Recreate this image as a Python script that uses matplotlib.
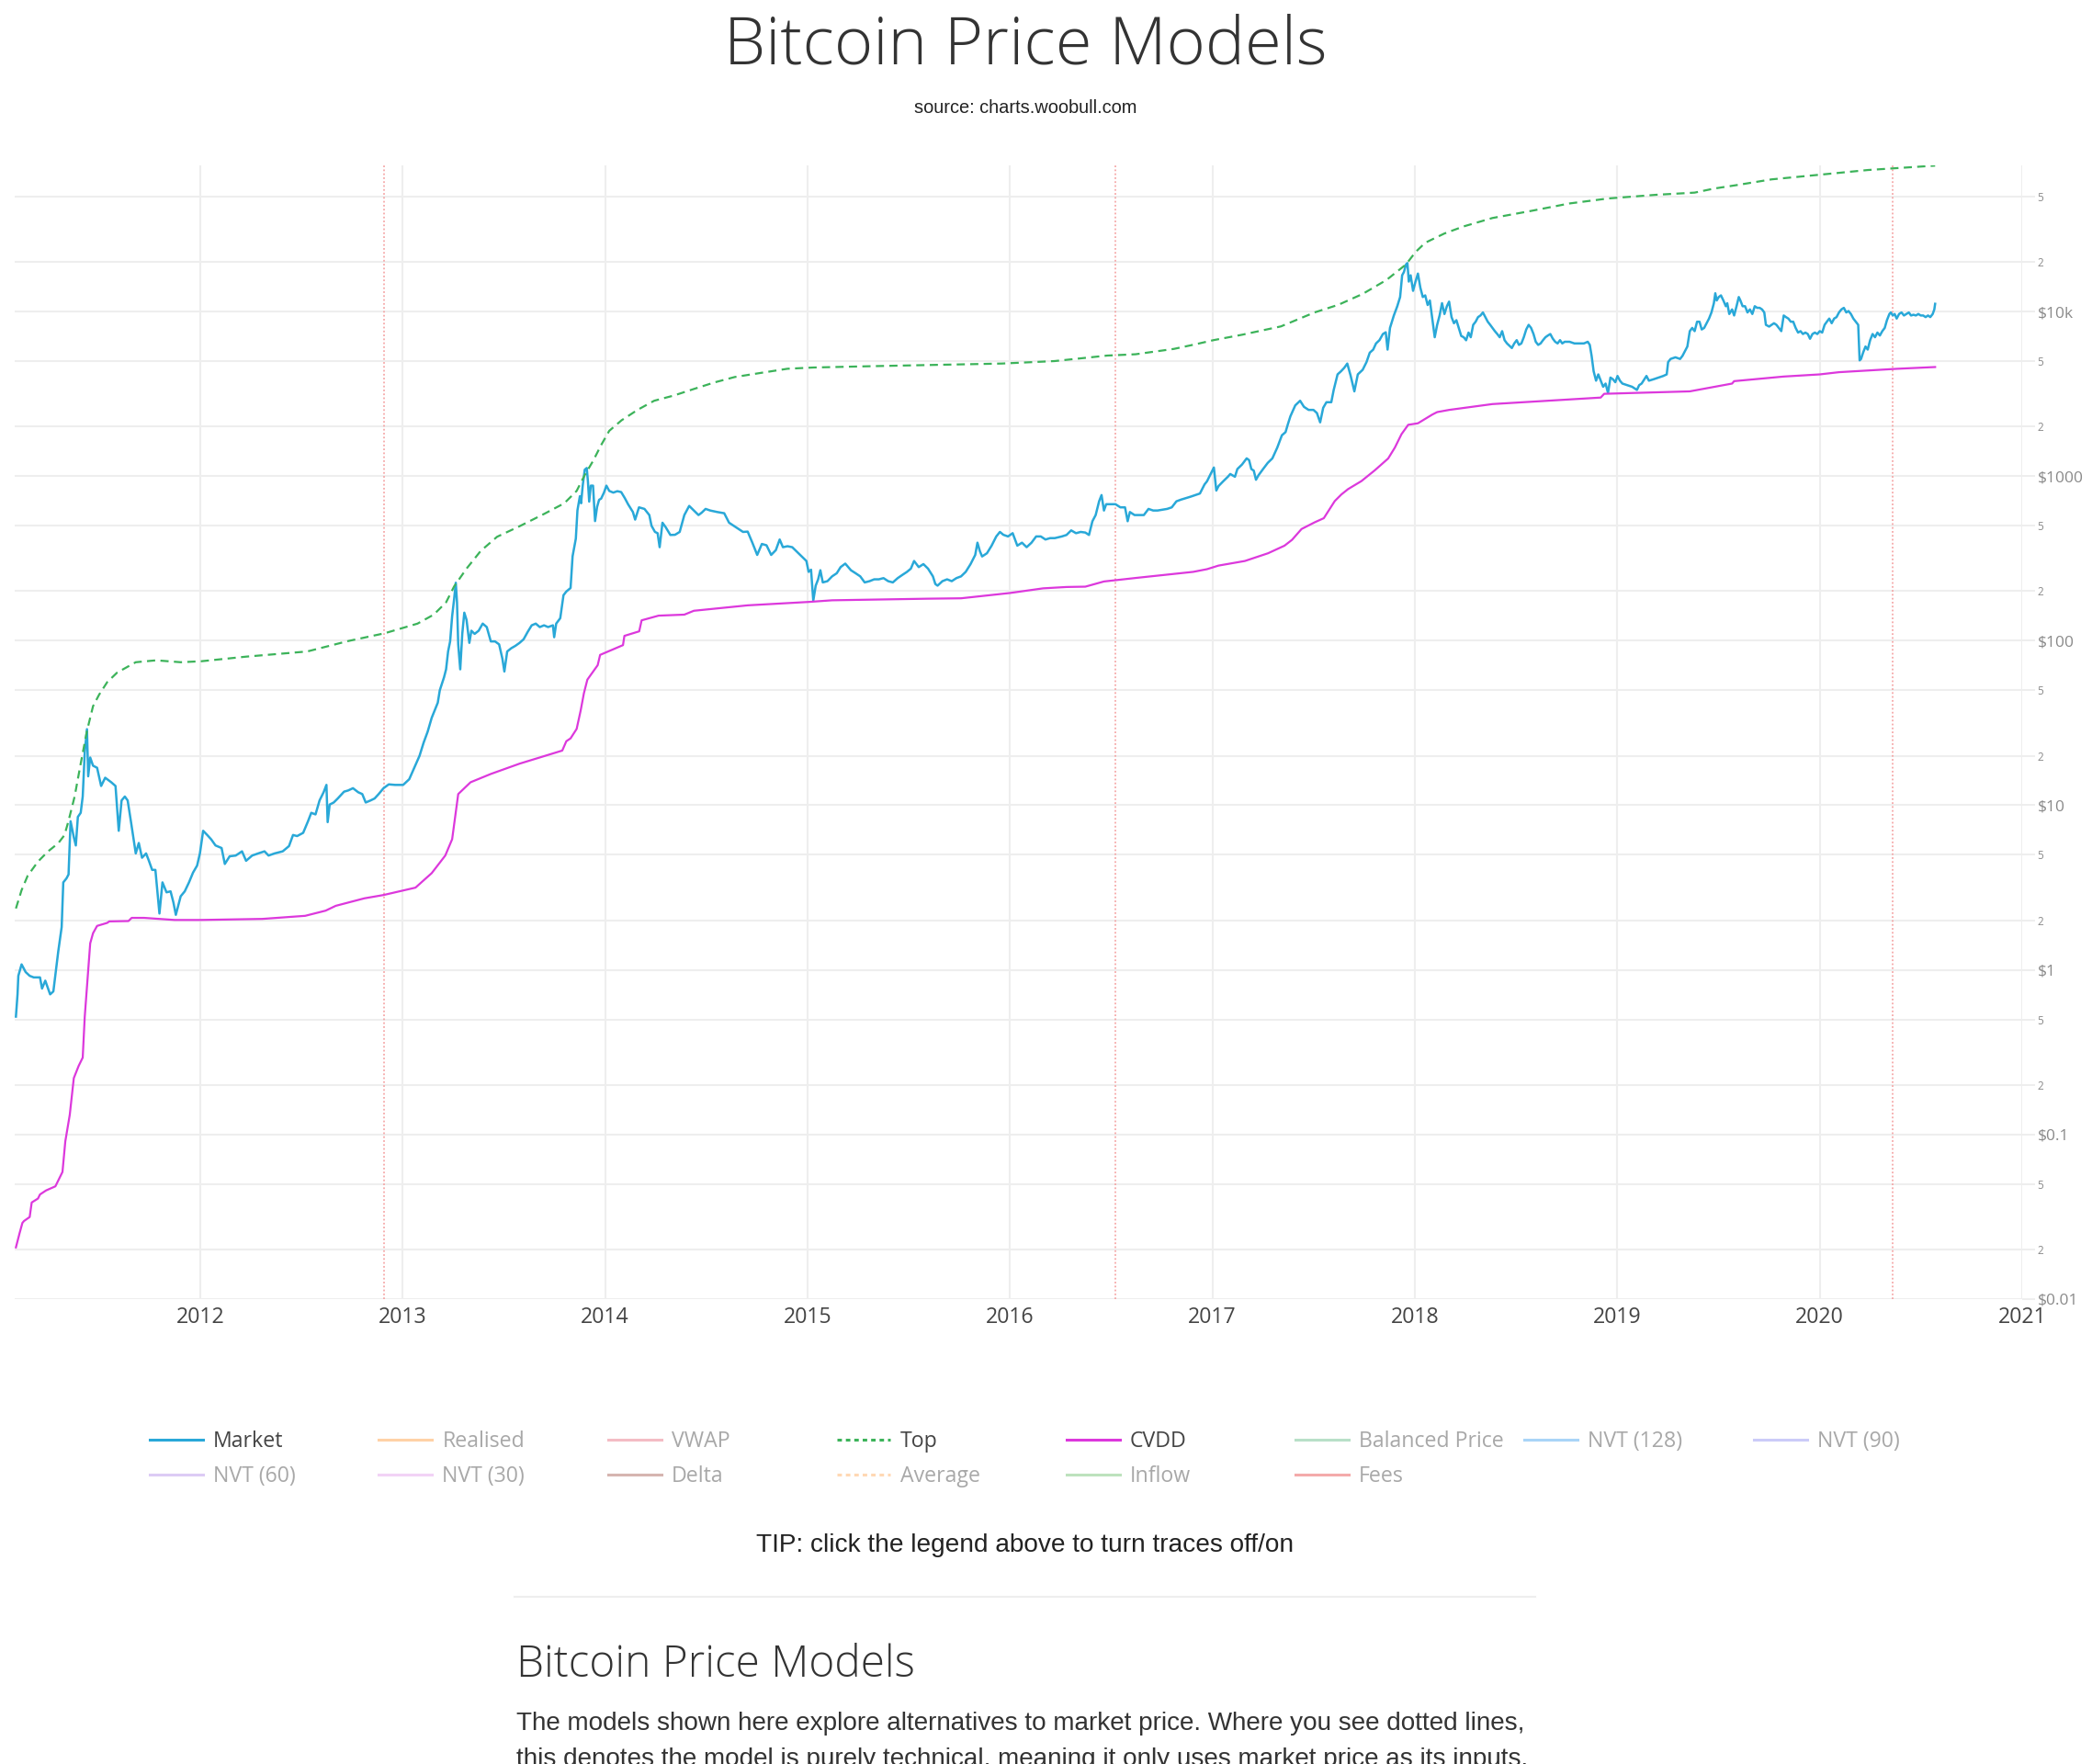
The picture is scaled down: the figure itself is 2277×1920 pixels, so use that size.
import math
import matplotlib
matplotlib.use('Agg')
import matplotlib.pyplot as plt
from matplotlib.lines import Line2D
from matplotlib.ticker import FixedLocator, FixedFormatter, NullLocator

plt.rcParams['font.family'] = ['Open Sans', 'DejaVu Sans']

W, H = 2277, 1920

# values: decimal year, USD
market_year = [
    2011.089, 2011.097, 2011.101, 2011.117, 2011.137, 2011.157, 2011.177, 2011.208, 2011.218, 2011.234,
    2011.258, 2011.274, 2011.298, 2011.315, 2011.323, 2011.339, 2011.349, 2011.359, 2011.375, 2011.385,
    2011.395, 2011.409, 2011.419, 2011.429, 2011.440, 2011.446, 2011.456, 2011.470, 2011.490, 2011.510,
    2011.530, 2011.560, 2011.581, 2011.597, 2011.611, 2011.627, 2011.641, 2011.657, 2011.681, 2011.696,
    2011.712, 2011.732, 2011.746, 2011.762, 2011.778, 2011.798, 2011.813, 2011.833, 2011.853, 2011.867,
    2011.879, 2011.903, 2011.923, 2011.944, 2011.964, 2011.984, 2011.998, 2012.014, 2012.034, 2012.054,
    2012.075, 2012.105, 2012.121, 2012.145, 2012.175, 2012.206, 2012.226, 2012.256, 2012.286, 2012.317,
    2012.337, 2012.367, 2012.407, 2012.438, 2012.458, 2012.478, 2012.508, 2012.532, 2012.548, 2012.569,
    2012.589, 2012.609, 2012.623, 2012.629, 2012.639, 2012.659, 2012.679, 2012.710, 2012.730, 2012.754,
    2012.780, 2012.800, 2012.817, 2012.841, 2012.861, 2012.881, 2012.905, 2012.931, 2012.962, 2013.002,
    2013.032, 2013.052, 2013.083, 2013.103, 2013.123, 2013.143, 2013.173, 2013.183, 2013.204, 2013.214,
    2013.224, 2013.234, 2013.244, 2013.254, 2013.262, 2013.268, 2013.274, 2013.284, 2013.294, 2013.304,
    2013.315, 2013.329, 2013.339, 2013.355, 2013.375, 2013.395, 2013.415, 2013.435, 2013.456, 2013.476,
    2013.492, 2013.502, 2013.516, 2013.536, 2013.556, 2013.577, 2013.597, 2013.617, 2013.637, 2013.657,
    2013.677, 2013.698, 2013.718, 2013.742, 2013.748, 2013.758, 2013.778, 2013.794, 2013.808, 2013.829,
    2013.839, 2013.855, 2013.863, 2013.875, 2013.881, 2013.889, 2013.899, 2013.909, 2013.915, 2013.921,
    2013.929, 2013.940, 2013.950, 2013.960, 2013.970, 2013.980, 2013.994, 2014.006, 2014.020, 2014.040,
    2014.060, 2014.079, 2014.097, 2014.113, 2014.137, 2014.148, 2014.167, 2014.194, 2014.218, 2014.229,
    2014.246, 2014.259, 2014.269, 2014.283, 2014.299, 2014.322, 2014.345, 2014.368, 2014.391, 2014.415,
    2014.438, 2014.461, 2014.477, 2014.496, 2014.519, 2014.554, 2014.588, 2014.612, 2014.635, 2014.658,
    2014.681, 2014.704, 2014.727, 2014.751, 2014.774, 2014.797, 2014.820, 2014.843, 2014.862, 2014.878,
    2014.901, 2014.924, 2014.947, 2014.971, 2014.994, 2015.005, 2015.017, 2015.028, 2015.040, 2015.052,
    2015.063, 2015.075, 2015.098, 2015.121, 2015.144, 2015.163, 2015.186, 2015.214, 2015.237, 2015.260,
    2015.282, 2015.306, 2015.329, 2015.352, 2015.375, 2015.398, 2015.421, 2015.445, 2015.468, 2015.491,
    2015.510, 2015.526, 2015.549, 2015.572, 2015.595, 2015.619, 2015.631, 2015.642, 2015.666, 2015.689,
    2015.712, 2015.735, 2015.758, 2015.781, 2015.805, 2015.828, 2015.839, 2015.851, 2015.862, 2015.886,
    2015.909, 2015.932, 2015.950, 2015.967, 2015.990, 2016.013, 2016.036, 2016.059, 2016.082, 2016.106,
    2016.129, 2016.152, 2016.175, 2016.198, 2016.221, 2016.256, 2016.279, 2016.302, 2016.326, 2016.349,
    2016.372, 2016.390, 2016.407, 2016.423, 2016.440, 2016.452, 2016.464, 2016.475, 2016.498, 2016.521,
    2016.545, 2016.568, 2016.581, 2016.592, 2016.615, 2016.638, 2016.661, 2016.684, 2016.707, 2016.729,
    2016.752, 2016.776, 2016.799, 2016.822, 2016.845, 2016.869, 2016.892, 2016.915, 2016.938, 2016.961,
    2016.973, 2016.996, 2017.007, 2017.019, 2017.030, 2017.053, 2017.076, 2017.088, 2017.100, 2017.111,
    2017.123, 2017.146, 2017.169, 2017.181, 2017.192, 2017.204, 2017.215, 2017.227, 2017.250, 2017.273,
    2017.296, 2017.320, 2017.343, 2017.361, 2017.373, 2017.385, 2017.409, 2017.433, 2017.452, 2017.475,
    2017.499, 2017.516, 2017.532, 2017.547, 2017.563, 2017.587, 2017.599, 2017.618, 2017.635, 2017.651,
    2017.666, 2017.682, 2017.701, 2017.718, 2017.742, 2017.761, 2017.777, 2017.794, 2017.808, 2017.825,
    2017.842, 2017.856, 2017.865, 2017.877, 2017.896, 2017.913, 2017.927, 2017.937, 2017.946, 2017.956,
    2017.963, 2017.970, 2017.979, 2017.991, 2018.003, 2018.015, 2018.027, 2018.039, 2018.051, 2018.063,
    2018.074, 2018.086, 2018.098, 2018.110, 2018.122, 2018.134, 2018.146, 2018.158, 2018.169, 2018.181,
    2018.193, 2018.205, 2018.217, 2018.229, 2018.241, 2018.253, 2018.265, 2018.276, 2018.288, 2018.300,
    2018.312, 2018.324, 2018.336, 2018.348, 2018.360, 2018.372, 2018.383, 2018.395, 2018.407, 2018.419,
    2018.431, 2018.443, 2018.455, 2018.467, 2018.479, 2018.491, 2018.503, 2018.514, 2018.526, 2018.538,
    2018.550, 2018.562, 2018.574, 2018.586, 2018.597, 2018.609, 2018.621, 2018.633, 2018.645, 2018.657,
    2018.669, 2018.681, 2018.693, 2018.705, 2018.717, 2018.728, 2018.740, 2018.764, 2018.788, 2018.811,
    2018.835, 2018.854, 2018.864, 2018.873, 2018.883, 2018.895, 2018.906, 2018.918, 2018.930, 2018.942,
    2018.954, 2018.966, 2018.978, 2018.990, 2019.001, 2019.013, 2019.025, 2019.049, 2019.073, 2019.097,
    2019.108, 2019.120, 2019.144, 2019.156, 2019.180, 2019.204, 2019.227, 2019.244, 2019.251, 2019.263,
    2019.287, 2019.310, 2019.322, 2019.334, 2019.346, 2019.358, 2019.370, 2019.382, 2019.394, 2019.406,
    2019.417, 2019.429, 2019.441, 2019.453, 2019.465, 2019.477, 2019.484, 2019.491, 2019.501, 2019.512,
    2019.524, 2019.536, 2019.543, 2019.553, 2019.567, 2019.577, 2019.589, 2019.600, 2019.608, 2019.619,
    2019.631, 2019.643, 2019.655, 2019.667, 2019.679, 2019.691, 2019.703, 2019.715, 2019.726, 2019.734,
    2019.750, 2019.762, 2019.774, 2019.786, 2019.798, 2019.810, 2019.822, 2019.833, 2019.845, 2019.857,
    2019.869, 2019.881, 2019.893, 2019.905, 2019.917, 2019.929, 2019.941, 2019.952, 2019.964, 2019.976,
    2019.988, 2020.000, 2020.012, 2020.024, 2020.035, 2020.047, 2020.059, 2020.071, 2020.083, 2020.095,
    2020.107, 2020.119, 2020.131, 2020.142, 2020.154, 2020.166, 2020.178, 2020.190, 2020.197, 2020.204,
    2020.214, 2020.226, 2020.237, 2020.249, 2020.261, 2020.273, 2020.285, 2020.297, 2020.309, 2020.321,
    2020.332, 2020.344, 2020.351, 2020.361, 2020.370, 2020.380, 2020.392, 2020.404, 2020.416, 2020.428,
    2020.440, 2020.451, 2020.463, 2020.475, 2020.487, 2020.499, 2020.511, 2020.523, 2020.535, 2020.546,
    2020.558, 2020.566, 2020.570,
]
market_price = [
    0.52, 0.71, 0.92, 1.08, 0.97, 0.92, 0.90, 0.90, 0.77, 0.86,
    0.71, 0.74, 1.29, 1.82, 3.4, 3.6, 3.8, 8.0, 6.4, 5.7,
    8.5, 9.0, 11.3, 21, 29, 15, 19.5, 17.4, 16.9, 13.1,
    14.7, 13.8, 13.1, 7.0, 10.7, 11.3, 10.7, 8.0, 5.1, 5.9,
    4.8, 5.1, 4.6, 4.05, 4.05, 2.2, 3.4, 2.96, 3.0, 2.57,
    2.16, 2.8, 3.0, 3.4, 3.9, 4.3, 5.1, 7.0, 6.6, 6.2,
    5.7, 5.5, 4.4, 4.9, 4.95, 5.25, 4.6, 4.95, 5.1, 5.25,
    4.95, 5.1, 5.25, 5.65, 6.6, 6.5, 6.8, 8.0, 9.0, 8.8,
    10.7, 12.0, 13.3, 7.9, 10.1, 10.4, 11.0, 12.1, 12.3, 12.7,
    12.0, 11.7, 10.4, 10.7, 11.0, 11.7, 12.7, 13.4, 13.3, 13.3,
    14.4, 16.4, 20, 24, 28, 34, 42, 50, 60, 67,
    86, 99, 141, 180, 225, 171, 95, 67, 110, 148,
    134, 97, 115, 110, 115, 127, 121, 99, 99, 95,
    78, 65, 86, 90, 93, 97, 102, 113, 124, 127,
    121, 124, 121, 124, 105, 127, 137, 189, 199, 209,
    326, 417, 620, 755, 684, 875, 1094, 1120, 920, 700,
    875, 875, 533, 650, 718, 730, 794, 875, 813, 794,
    810, 800, 735, 675, 605, 544, 646, 632, 580, 499,
    458, 450, 370, 521, 489, 439, 440, 458, 580, 659,
    618, 580, 600, 632, 618, 605, 595, 521, 499, 478,
    458, 460, 394, 332, 387, 380, 332, 355, 412, 370,
    375, 370, 347, 325, 305, 262, 270, 175, 216, 236,
    268, 226, 230, 246, 257, 280, 294, 268, 257, 246,
    226, 230, 236, 236, 240, 230, 226, 240, 251, 262,
    274, 305, 280, 292, 274, 246, 221, 216, 230, 236,
    230, 240, 246, 262, 292, 332, 394, 350, 325, 340,
    378, 430, 458, 440, 430, 450, 378, 394, 370, 394,
    430, 430, 412, 420, 420, 430, 439, 468, 450, 458,
    454, 439, 532, 580, 703, 767, 618, 675, 675, 675,
    646, 646, 532, 605, 580, 580, 580, 632, 618, 618,
    625, 632, 646, 703, 720, 735, 750, 767, 784, 891,
    930, 1058, 1128, 817, 870, 930, 991, 1030, 1010, 991,
    1104, 1176, 1282, 1250, 1104, 1080, 950, 1010, 1104, 1203,
    1282, 1489, 1770, 1850, 2075, 2310, 2690, 2870, 2636, 2525,
    2525, 2417, 2122, 2600, 2812, 2812, 3342, 4150, 4335, 4550,
    4830, 4100, 3273, 4150, 4425, 4930, 5620, 5870, 6400, 6700,
    7300, 7480, 5870, 7950, 9460, 10770, 12250, 16600, 17400, 19300,
    19700, 15200, 16600, 13360, 15200, 17000, 13960, 12250, 12530, 10950,
    11670, 9060, 6980, 8300, 9460, 11240, 9660, 10770, 11490, 9250,
    8490, 8860, 7950, 7100, 6980, 6690, 7450, 6980, 8300, 8670,
    9250, 9460, 9870, 9250, 8670, 8300, 7950, 7600, 7300, 6980,
    7600, 6700, 6400, 6200, 6000, 6400, 6700, 6270, 6400, 6980,
    7780, 8300, 7950, 7300, 6550, 6270, 6400, 6700, 6980, 7150,
    7300, 6850, 6550, 6400, 6700, 6400, 6550, 6550, 6400, 6400,
    6400, 6550, 6270, 5380, 4335, 3800, 4150, 3800, 3490, 3650,
    3200, 3970, 3880, 3720, 4060, 3800, 3650, 3570, 3490, 3340,
    3570, 3650, 4060, 3800, 3880, 3970, 4060, 4150, 4930, 5150,
    5270, 5150, 5380, 5740, 6130, 7600, 7950, 7600, 8670, 8670,
    7780, 7950, 8490, 9060, 9870, 11240, 12910, 11670, 12250, 12530,
    11670, 10770, 11240, 9660, 10300, 9460, 10770, 12250, 11670, 10770,
    10770, 9870, 10300, 9660, 10770, 10530, 10530, 10300, 9870, 8300,
    8100, 8300, 8490, 8300, 7950, 7600, 9460, 9250, 9060, 8670,
    8670, 7950, 7450, 7600, 7300, 7450, 7300, 6830, 7300, 7450,
    7300, 7600, 7450, 8300, 8670, 9060, 8490, 9060, 9250, 9870,
    10300, 10530, 9870, 10070, 9660, 9060, 8670, 8300, 5050, 5150,
    5620, 6130, 5870, 6700, 7300, 6980, 7450, 7150, 7600, 7950,
    8860, 9660, 9870, 9460, 9660, 9060, 9660, 9870, 9460, 9660,
    9870, 9460, 9560, 9460, 9660, 9460, 9460, 9250, 9460, 9250,
    9660, 10300, 11140,
]

cvdd_year = [
    2011.089, 2011.107, 2011.121, 2011.129, 2011.157, 2011.167, 2011.198, 2011.208, 2011.238, 2011.284,
    2011.319, 2011.333, 2011.355, 2011.375, 2011.399, 2011.419, 2011.429, 2011.444, 2011.456, 2011.470,
    2011.490, 2011.540, 2011.550, 2011.645, 2011.661, 2011.722, 2011.873, 2012.000, 2012.306, 2012.518,
    2012.619, 2012.669, 2012.810, 2012.905, 2013.063, 2013.093, 2013.143, 2013.210, 2013.244, 2013.274,
    2013.335, 2013.435, 2013.577, 2013.788, 2013.808, 2013.829, 2013.859, 2013.879, 2013.895, 2013.912,
    2013.963, 2013.975, 2014.088, 2014.095, 2014.168, 2014.180, 2014.264, 2014.391, 2014.438, 2014.704,
    2015.005, 2015.121, 2015.595, 2015.758, 2016.001, 2016.163, 2016.279, 2016.372, 2016.464, 2016.627,
    2016.905, 2016.973, 2017.030, 2017.160, 2017.275, 2017.356, 2017.393, 2017.440, 2017.505, 2017.550,
    2017.604, 2017.637, 2017.670, 2017.736, 2017.802, 2017.868, 2017.901, 2017.934, 2017.967, 2018.015,
    2018.086, 2018.110, 2018.169, 2018.383, 2018.918, 2018.935, 2019.358, 2019.567, 2019.577, 2019.822,
    2020.000, 2020.095, 2020.380, 2020.570,
]
cvdd_price = [
    0.0206, 0.0251, 0.029, 0.0298, 0.0315, 0.0386, 0.0408, 0.0432, 0.0457, 0.0484,
    0.0592, 0.0908, 0.1316, 0.22, 0.261, 0.293, 0.519, 0.918, 1.45, 1.67,
    1.85, 1.93, 1.97, 1.98, 2.07, 2.07, 2.01, 2.01, 2.04, 2.13,
    2.29, 2.45, 2.72, 2.85, 3.16, 3.41, 3.87, 4.95, 6.22, 11.7,
    13.8, 15.5, 17.9, 21.5, 24.5, 25.5, 29.1, 37.7, 48, 58,
    71, 82, 94, 107, 114, 133, 142, 144, 152, 164,
    172, 176, 180, 181, 195, 208, 212, 213, 229, 241,
    262, 272, 286, 305, 340, 378, 410, 477, 524, 555,
    705, 774, 834, 933, 1085, 1280, 1490, 1800, 2050, 2094,
    2366, 2449, 2525, 2740, 3001, 3163, 3273, 3650, 3776, 4027,
    4150, 4280, 4487, 4600,
]

top_year = [
    2011.089, 2011.117, 2011.147, 2011.198, 2011.248, 2011.298, 2011.329, 2011.349, 2011.379, 2011.409,
    2011.440, 2011.470, 2011.500, 2011.540, 2011.589, 2011.681, 2011.782, 2011.903, 2012.004, 2012.226,
    2012.528, 2012.730, 2012.911, 2013.073, 2013.153, 2013.214, 2013.254, 2013.315, 2013.385, 2013.466,
    2013.577, 2013.698, 2013.798, 2013.859, 2013.899, 2013.940, 2013.980, 2014.020, 2014.081, 2014.161,
    2014.242, 2014.340, 2014.440, 2014.540, 2014.640, 2014.770, 2014.900, 2015.030, 2015.300, 2015.630,
    2015.960, 2016.220, 2016.480, 2016.620, 2016.810, 2016.910, 2017.005, 2017.147, 2017.338, 2017.504,
    2017.623, 2017.742, 2017.860, 2017.956, 2018.003, 2018.051, 2018.146, 2018.241, 2018.383, 2018.574,
    2018.764, 2018.954, 2019.192, 2019.382, 2019.477, 2019.596, 2019.762, 2020.000, 2020.237, 2020.428,
    2020.570,
]
top_price = [
    2.36, 3.05, 3.73, 4.55, 5.25, 5.88, 6.59, 8.05, 11.3, 17.9,
    28.3, 40, 47, 56, 64, 74, 76, 74, 75, 80,
    86, 99.5, 111, 127, 144, 171, 214, 274, 351, 428,
    496, 589, 684, 813, 1015, 1236, 1544, 1884, 2184, 2531,
    2870, 3090, 3390, 3710, 4000, 4240, 4490, 4570, 4650, 4740,
    4830, 5000, 5400, 5500, 5930, 6300, 6700, 7230, 8120, 9870,
    11000, 12790, 15560, 19320, 22970, 26170, 29800, 32900, 37000, 40860,
    45360, 48620, 51200, 52780, 55840, 58800, 63530, 67800, 72400, 75000,
    77000,
]

halving_year = [2012.908, 2016.519, 2020.359]

year_ticks = list(range(2012, 2022))
price_major = [0.01, 0.1, 1, 10, 100, 1000, 10000]
price_major_labels = ['$0.01', '$0.1', '$1', '$10', '$100', '$1000', '$10k']
price_minor = [m * 10.0 ** e for e in range(-2, 5) for m in (2, 5)]
price_minor_labels = [str(m) for e in range(-2, 5) for m in (2, 5)]

legend_names = ['Market', 'Realised', 'VWAP', 'Top', 'CVDD', 'Balanced Price', 'NVT (128)', 'NVT (90)',
                'NVT (60)', 'NVT (30)', 'Delta', 'Average', 'Inflow', 'Fees']
legend_colors = ['#29a8d8', '#ffd2a6', '#f4bcc4', '#3cb35a', '#dc38dc', '#b8e0c8', '#a9d4f7', '#cbcbf8',
                 '#dccbf5', '#f2d3f6', '#d6b5b0', '#ffd8b4', '#bde2bd', '#f4aaaa']
legend_dotted = [False, False, False, True, False, False, False, False,
                 False, False, False, True, False, False]
legend_on = [True, False, False, True, True, False, False, False,
             False, False, False, False, False, False]

MARKET_C = '#29a8d8'
CVDD_C = '#dc38dc'
TOP_C = '#3cb35a'
GRID_C = '#eeeeee'
SANS = ['Liberation Sans', 'DejaVu Sans']


def fx(px):
    return px / W


def fy(py):
    return 1 - py / H


fig = plt.figure(figsize=(W / 100, H / 100), dpi=100)
fig.patch.set_facecolor('white')

ax = fig.add_axes([fx(16), fy(1414), fx(2201) - fx(16), fy(180) - fy(1414)])
ax.set_yscale('log')
ax.set_xlim(2011.083, 2021.0)
ax.set_ylim(0.00999, 10 ** 4.888)

ax.plot(market_year, market_price, color=MARKET_C, lw=1.8, zorder=3)
ax.plot(top_year, top_price, color=TOP_C, lw=1.6, ls=(0, (4.0, 2.6)), zorder=4)
ax.plot(cvdd_year, cvdd_price, color=CVDD_C, lw=1.6, zorder=4)
for hy in halving_year:
    ax.axvline(hy, color='#f49a9a', lw=1.1, ls=(0, (1.2, 1.6)), zorder=2)

# axes styling
for s in ax.spines.values():
    s.set_visible(False)
ax.xaxis.set_major_locator(FixedLocator(year_ticks))
ax.xaxis.set_major_formatter(FixedFormatter([str(y) for y in year_ticks]))
ax.xaxis.set_minor_locator(NullLocator())
ax.tick_params(axis='x', length=0, pad=5.5, labelsize=16.7, labelcolor='#444444')

ax.yaxis.tick_right()
ax.yaxis.set_major_locator(FixedLocator(price_major))
ax.yaxis.set_major_formatter(FixedFormatter(price_major_labels))
ax.yaxis.set_minor_locator(FixedLocator(price_minor))
ax.yaxis.set_minor_formatter(FixedFormatter(price_minor_labels))
ax.tick_params(axis='y', which='both', direction='out', length=10, width=1.4, color=GRID_C,
               pad=2, labelcolor='#8a8a8a')
ax.tick_params(axis='y', which='major', labelsize=12.5)
ax.tick_params(axis='y', which='minor', labelsize=8.5)
ax.grid(True, which='major', axis='x', color=GRID_C, lw=1.5, zorder=0)
ax.grid(True, which='both', axis='y', color=GRID_C, lw=1.5, zorder=0)
ax.set_axisbelow(True)

# page text
fig.text(fx(1116), fy(69), 'Bitcoin Price Models', ha='center', va='baseline',
         fontsize=52, fontweight='light', color='#333333')
fig.text(fx(1116), fy(123), 'source: charts.woobull.com', ha='center', va='baseline',
         fontsize=14.4, family=SANS, color='#222222')

# legend (plotly style, row by row)
for i, name in enumerate(legend_names):
    col, row = i % 8, i // 8
    x0 = 163 + col * 249.4
    yl = 1567 + row * 38
    ls = (0, (1.6, 1.4)) if legend_dotted[i] else '-'
    fig.add_artist(Line2D([fx(x0), fx(x0 + 58)], [fy(yl), fy(yl)], transform=fig.transFigure,
                          color=legend_colors[i], lw=2.2, ls=ls))
    fig.text(fx(x0 + 69), fy(yl + 8), name, ha='left', va='baseline', fontsize=16.7,
             color='#444444' if legend_on[i] else '#a8a8a8')

fig.text(fx(1116), fy(1689), 'TIP: click the legend above to turn traces off/on', ha='center',
         va='baseline', fontsize=20.2, family=SANS, color='#222222')
fig.add_artist(Line2D([fx(560), fx(1671)], [fy(1738), fy(1738)], transform=fig.transFigure,
                      color='#eeeeee', lw=1.5))
fig.text(fx(562), fy(1825), 'Bitcoin Price Models', ha='left', va='baseline',
         fontsize=34.4, fontweight='light', color='#333333')
fig.text(fx(562), fy(1883),
         'The models shown here explore alternatives to market price. Where you see dotted lines,',
         ha='left', va='baseline', fontsize=20.1, family=SANS, color='#333333')
# second paragraph line runs off the bottom edge, as in the page capture
fig.text(fx(562), fy(1922),
         'this denotes the model is purely technical, meaning it only uses market price as its inputs.',
         ha='left', va='baseline', fontsize=20.1, family=SANS, color='#333333')

fig.savefig('out.png', dpi=100, facecolor='white')
